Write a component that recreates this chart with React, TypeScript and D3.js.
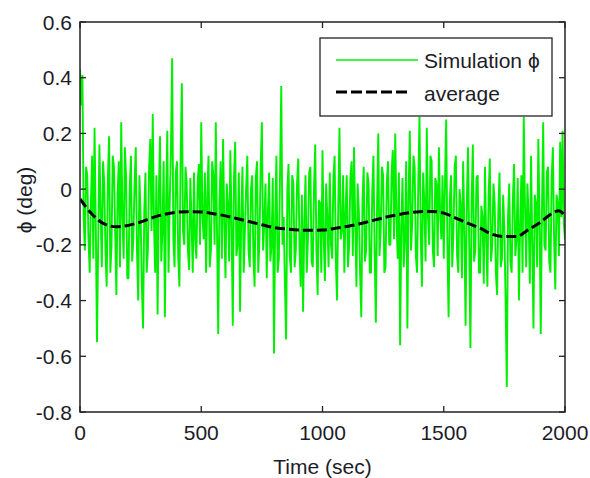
import React from "react";
import * as d3 from "d3";

// Simulation phi, sampled every 5 s (t = 0 … 2000)
const simValues: number[] = [
  0.43, 0.30, 0.41, -0.10, -0.22, 0.08, 0.05, -0.18, -0.30, -0.05, 0.12, -0.25, 0.22, -0.12, -0.55, -0.20, 0.16, -0.08, -0.28, 0.10,
  0.02, -0.22, -0.35, 0.04, 0.19, -0.30, -0.20, 0.12, 0.08, -0.15, -0.38, -0.02, 0.10, -0.28, 0.24, -0.10, -0.25, 0.15, 0.05, -0.32,
  -0.32, 0.00, 0.12, -0.26, -0.18, 0.02, 0.15, -0.22, -0.40, 0.05, -0.10, -0.34, -0.50, -0.08, 0.06, -0.30, -0.22, 0.08, 0.18, -0.15,
  0.27, -0.12, -0.30, 0.05, -0.45, -0.02, 0.19, -0.26, -0.15, 0.10, -0.46, -0.05, 0.21, -0.30, -0.05, 0.14, 0.47, -0.18, -0.28, 0.06,
  0.10, -0.24, -0.35, 0.12, 0.38, -0.15, -0.20, 0.08, 0.02, -0.22, -0.29, 0.04, -0.12, -0.30, 0.06, -0.18, -0.25, 0.02, 0.09, -0.20,
  0.24, -0.10, -0.18, 0.06, -0.30, -0.02, 0.12, -0.28, -0.22, 0.10, 0.05, -0.20, 0.24, -0.15, -0.52, -0.05, 0.10, -0.25, 0.18, -0.12,
  -0.32, 0.02, -0.05, -0.26, 0.14, -0.12, -0.49, 0.04, 0.17, -0.24, -0.20, 0.06, -0.44, -0.10, 0.08, -0.30, -0.15, 0.00, 0.12, -0.22,
  -0.28, 0.00, 0.05, -0.24, -0.35, 0.04, 0.10, -0.30, -0.18, 0.08, 0.24, -0.22, -0.12, 0.02, -0.32, -0.08, 0.06, -0.26, -0.20, 0.04,
  -0.59, -0.10, 0.12, -0.30, -0.25, 0.06, 0.37, -0.20, -0.10, -0.34, -0.54, 0.00, 0.09, -0.24, -0.30, 0.05, 0.02, -0.28, -0.22, 0.02,
  0.11, -0.20, -0.35, -0.02, -0.44, -0.12, 0.05, -0.30, -0.18, 0.06, 0.08, -0.26, -0.28, 0.00, 0.16, -0.22, -0.38, -0.04, -0.05, -0.30,
  0.14, -0.18, -0.33, 0.02, -0.10, -0.28, 0.06, -0.20, -0.25, 0.04, 0.12, -0.26, -0.40, -0.06, 0.22, -0.18, -0.15, 0.05, -0.30, -0.08,
  0.05, -0.28, -0.20, 0.04, 0.10, -0.24, 0.15, -0.12, -0.35, 0.02, -0.08, -0.30, -0.46, -0.04, 0.08, -0.26, -0.22, 0.06, 0.02, -0.30,
  -0.30, -0.02, 0.12, -0.22, -0.48, -0.06, 0.20, -0.24, -0.15, 0.08, 0.05, -0.30, -0.28, 0.02, 0.10, -0.20, -0.20, 0.06, 0.14, -0.18,
  0.20, -0.10, -0.25, 0.06, -0.56, -0.14, 0.04, -0.28, -0.18, 0.10, -0.50, -0.02, 0.21, -0.22, -0.12, 0.12, 0.08, -0.24, -0.30, 0.02,
  0.26, -0.16, -0.35, 0.06, -0.05, -0.26, 0.22, -0.10, -0.20, 0.12, 0.10, -0.22, -0.28, 0.04, 0.02, -0.24, 0.15, -0.08, -0.18, 0.05,
  -0.25, 0.02, 0.25, -0.20, -0.46, -0.04, 0.05, -0.28, -0.15, 0.08, 0.12, -0.24, -0.30, 0.00, -0.05, -0.32, 0.10, -0.14, -0.49, -0.06,
  0.15, -0.20, -0.57, -0.04, 0.16, -0.26, -0.22, 0.04, 0.05, -0.30, -0.30, -0.06, -0.10, -0.34, 0.08, -0.18, -0.35, -0.02, 0.11, -0.26,
  -0.20, 0.02, -0.05, -0.30, -0.38, -0.08, 0.06, -0.28, -0.25, -0.02, -0.15, -0.40, -0.71, -0.10, 0.02, -0.26, -0.30, -0.04, 0.09, -0.24,
  -0.18, 0.04, -0.40, -0.12, 0.05, -0.30, 0.26, -0.06, -0.28, 0.02, -0.10, -0.34, 0.12, -0.20, -0.50, -0.02, -0.05, -0.28, 0.18, -0.10,
  -0.52, -0.08, 0.24, -0.20, -0.22, 0.06, 0.08, -0.26, -0.30, 0.04, 0.15, -0.18, -0.36, -0.02, -0.05, -0.24, 0.17, -0.10, 0.21, -0.12,
  -0.18,
];
const simStep = 5;

const avgTimes: number[] = [
  0, 50, 100, 150, 200, 250, 300, 350, 400, 450, 500, 550, 600, 650, 700, 750,
  800, 850, 900, 950, 1000, 1050, 1100, 1150, 1200, 1250, 1300, 1350, 1400,
  1450, 1500, 1550, 1600, 1650, 1700, 1750, 1800, 1850, 1900, 1950, 1975, 2000,
];
const avgValues: number[] = [
  -0.035, -0.09, -0.125, -0.135, -0.13, -0.118, -0.102, -0.09, -0.083, -0.081,
  -0.082, -0.088, -0.096, -0.106, -0.117, -0.128, -0.138, -0.143, -0.147,
  -0.148, -0.147, -0.141, -0.134, -0.125, -0.114, -0.103, -0.094, -0.086,
  -0.081, -0.08, -0.086, -0.104, -0.123, -0.14, -0.162, -0.17, -0.17, -0.145,
  -0.118, -0.085, -0.078, -0.097,
];

const xTicks: number[] = [0, 500, 1000, 1500, 2000];
const yTicks: number[] = [-0.8, -0.6, -0.4, -0.2, 0, 0.2, 0.4, 0.6];
const yTickLabels: string[] = ["-0.8", "-0.6", "-0.4", "-0.2", "0", "0.2", "0.4", "0.6"];
const legendLabels: string[] = ["Simulation ϕ", "average"];

const W = 590;
const H = 478;
const L = 80, R = 565, T = 22, B = 412;
const FONT = "'Liberation Sans', Arial, sans-serif";
const TEXT = "#1c1c28";
const GREEN = "#00f000";

export default function App() {
  const x = d3.scaleLinear().domain([0, 2000]).range([L, R]);
  const y = d3.scaleLinear().domain([-0.8, 0.6]).range([B, T]);

  const simLine = d3
    .line<number>()
    .x((_, i) => x(i * simStep))
    .y((v) => y(v))(simValues) as string;

  const avgPts = avgTimes.map((t, i) => [t, avgValues[i]] as [number, number]);
  const avgLine = d3
    .line<[number, number]>()
    .x((d) => x(d[0]))
    .y((d) => y(d[1]))
    .curve(d3.curveMonotoneX)(avgPts) as string;

  const tickLen = 6;
  const lx0 = 320, ly0 = 38, lx1 = 552, ly1 = 116;

  return (
    <svg
      width={W}
      height={H}
      style={{ position: "absolute", left: 0, top: 0, background: "#fff" }}
      fontFamily={FONT}
    >
      <rect x={0} y={0} width={W} height={H} fill="#fff" />
      <defs>
        <clipPath id="plotclip">
          <rect x={L} y={T} width={R - L} height={B - T} />
        </clipPath>
      </defs>
      <g clipPath="url(#plotclip)">
        <path d={simLine} fill="none" stroke={GREEN} strokeWidth={1.9} strokeLinejoin="bevel" />
        <path d={avgLine} fill="none" stroke="#000" strokeWidth={3} strokeDasharray="10 4" />
      </g>

      {/* frame */}
      <rect x={L} y={T} width={R - L} height={B - T} fill="none" stroke="#222" strokeWidth={1.5} />

      {/* x ticks */}
      {xTicks.map((t) => (
        <g key={"x" + t}>
          <line x1={x(t)} x2={x(t)} y1={B} y2={B - tickLen} stroke="#222" strokeWidth={1.3} />
          <line x1={x(t)} x2={x(t)} y1={T} y2={T + tickLen} stroke="#222" strokeWidth={1.3} />
          <text x={x(t)} y={440} fontSize={21} fill={TEXT} textAnchor="middle">
            {t}
          </text>
        </g>
      ))}

      {/* y ticks */}
      {yTicks.map((v, i) => (
        <g key={"y" + v}>
          <line x1={L} x2={L + tickLen} y1={y(v)} y2={y(v)} stroke="#222" strokeWidth={1.3} />
          <line x1={R} x2={R - tickLen} y1={y(v)} y2={y(v)} stroke="#222" strokeWidth={1.3} />
          <text x={72} y={y(v) + 7.5} fontSize={21} fill={TEXT} textAnchor="end">
            {yTickLabels[i]}
          </text>
        </g>
      ))}

      {/* axis labels */}
      <text x={(L + R) / 2} y={474} fontSize={21} fill={TEXT} textAnchor="middle">
        Time (sec)
      </text>
      <text
        transform={`translate(32, 200) rotate(-90)`}
        fontSize={21}
        fill={TEXT}
        textAnchor="middle"
      >
        ϕ (deg)
      </text>

      {/* legend */}
      <rect x={lx0} y={ly0} width={lx1 - lx0} height={ly1 - ly0} fill="#fff" stroke="#222" strokeWidth={1.3} />
      <line x1={336} x2={418} y1={60} y2={60} stroke={GREEN} strokeWidth={1.6} />
      <text x={424} y={68} fontSize={21} fill={TEXT}>
        {legendLabels[0]}
      </text>
      <line x1={336} x2={411} y1={92} y2={92} stroke="#000" strokeWidth={3} strokeDasharray="11 4" />
      <text x={424} y={101} fontSize={21} fill={TEXT}>
        {legendLabels[1]}
      </text>
    </svg>
  );
}
